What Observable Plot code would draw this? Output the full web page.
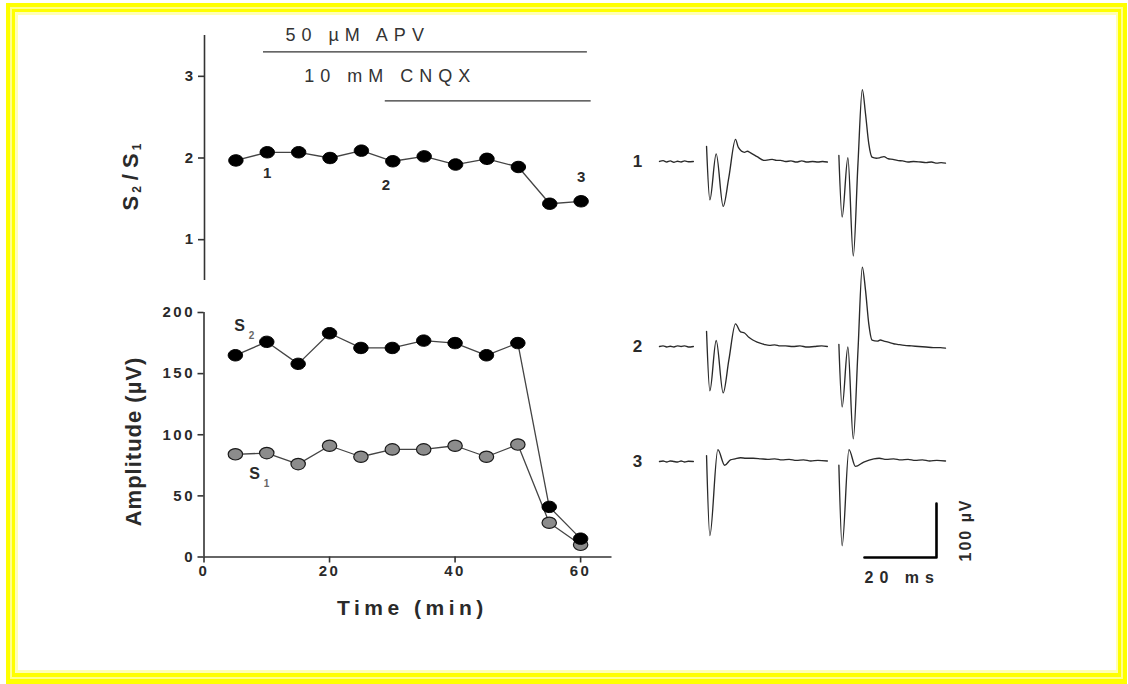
<!DOCTYPE html>
<html><head><meta charset="utf-8">
<script src="https://cdn.jsdelivr.net/npm/d3@7"></script>
<script src="https://cdn.jsdelivr.net/npm/@observablehq/plot@0.6"></script>
<style>
html,body{margin:0;padding:0;background:#fff;}
#page{position:relative;width:1128px;height:684px;overflow:hidden;font-family:"Liberation Sans",Arial,sans-serif;background:#fff;}
.frame{position:absolute;box-sizing:border-box;}
.panel{position:absolute;}
.panel svg{overflow:visible;}
g[aria-label="y-axis tick label"] text, g[aria-label="x-axis tick label"] text{letter-spacing:2.5px;font-size:15px;font-weight:bold;}
g[aria-description="drug label"] text{letter-spacing:6px;}
g[aria-description="time title"] text{letter-spacing:4.5px;}
g[aria-description="amp title"] text{letter-spacing:1px;}
g[aria-description="ms label"] text{letter-spacing:6px;}
g[aria-description="uv label"] text{letter-spacing:2px;}
</style></head><body>
<div id="page">
 <div class="frame" style="left:6px;top:3px;width:1121px;height:681px;background:#ffff00"></div>
 <div class="frame" style="left:10px;top:7px;width:1113px;height:672px;background:#ffff8c"></div>
 <div class="frame" style="left:12px;top:9px;width:1109px;height:668px;background:#ffff00"></div>
 <div class="frame" style="left:15px;top:12px;width:1103px;height:661px;background:#ffffb4"></div>
 <div class="frame" style="left:18px;top:15px;width:1098px;height:655px;background:#ffffff"></div>
 <div id="top" class="panel" style="left:0;top:0"></div>
 <div id="bottom" class="panel" style="left:0;top:290px"></div>
 <div id="traces" class="panel" style="left:620px;top:60px"></div>
</div>
<script>
// ---------- data ----------
const times = [5, 10, 15, 20, 25, 30, 35, 40, 45, 50, 55, 60];
const ratio = [1.97, 2.07, 2.07, 2.00, 2.09, 1.96, 2.02, 1.92, 1.99, 1.89, 1.44, 1.47];
const s2 = [165, 176, 158, 183, 171, 171, 177, 175, 165, 175, 41, 15];
const s1 = [84, 85, 76, 91, 82, 88, 88, 91, 82, 92, 28, 10];
const ratioTicks = [1, 2, 3];
const ampTicks = [0, 50, 100, 150, 200];
const timeTicks = [0, 20, 40, 60];
const drugNames = ["50 \u00b5M APV", "10 mM CNQX"];
const drugStart = [9.4, 28.8];
const drugEnd = [61.0, 61.6];
const sampleLabels = ["1", "2", "3"];
const sampleTimes = [10, 30, 60];
const traceLabels = ["1", "2", "3"];
// traces: [ms, µV]
const trace1Pre = [[0,0],[1,1.5],[2,-1],[3,1],[4,-1.5],[5,0.5],[6,-1],[7,1],[8,-0.5],[9.4,0]];
const trace1A = [[13.06,28],[13.98,-71],[15.74,14],[17.68,-83],[19.26,-29],[21.1,41],[21.9,26],[23.6,17],[24.4,19],[25.3,16],[27.1,9],[29.0,2],[30.2,3],[31.3,4],[32.5,2],[33.6,2],[35,0],[36.5,1],[38,-1],[39.5,1],[41,-1],[42.5,0],[44,-1],[45.3,0],[46.6,-1]];
const trace1B = [[49.8,11],[50.7,-103],[52.3,7],[53.8,-175],[55.1,-4],[56.3,133],[57.2,88],[58.1,33],[59.0,8],[60.2,6],[61.2,7],[62.3,9],[63.5,5],[64.8,4],[66.0,2],[67.5,1],[69,-1],[70.5,0],[72.5,-1],[74,-2],[75.5,-1],[77,-3],[78.2,-2],[79.4,-3]];
const trace2Pre = [[0,0],[1,1],[2,-1],[3,0.5],[4,-1],[5,1],[6,0],[7,1],[8,-1],[9.4,0]];
const trace2A = [[13.06,28],[13.98,-82],[15.74,11],[17.68,-86],[19.26,-25],[21.1,42],[22.5,27],[23.6,25],[24.8,17],[25.9,12],[27.1,8],[29.0,4],[30.5,2],[32,3],[33.5,1],[35,1],[37,0],[39,1],[41,-1],[43,0],[45,1],[46.6,0]];
const trace2B = [[49.8,4],[50.7,-112],[52.3,-1],[53.8,-171],[55.1,-8],[56.3,147],[57.2,104],[58.1,42],[59.0,12],[60.5,10],[61.3,12],[62.3,10],[63.5,8],[65,5],[66,4],[68,2],[70,1],[72,0],[74,-1],[76,-2],[78,-2],[79.4,-3]];
const trace3Pre = [[0,0],[1,1],[2,-1],[3,1],[4,0],[5,-1],[6,1],[7,-1],[8,0.5],[9.4,0]];
const trace3A = [[13.06,11],[13.98,-137],[16.2,22],[18.1,-7],[19.7,3],[21,5],[22.5,7],[24,6],[26,6],[28.1,5],[30,4],[32,5],[34,3],[36,4],[38,2],[40,3],[42,1],[44,2],[46.6,1]];
const trace3B = [[49.8,-7],[50.7,-156],[52.6,22],[54.4,-9],[56.7,-1],[59.5,5],[61,6],[63,4],[65,5],[67,3],[69,4],[71,2],[73,3],[75,1],[77,2],[79.4,1]];
const scaleBarMs = 20;
const scaleBarUV = 100;

// ---------- layout / style ----------
const FONT = '"Liberation Sans", Arial, sans-serif';
const INK = "#2a2a2a";
const ellipse = { draw(ctx) {
  const rx = 7.2, ry = 5.7, k = 0.5523;
  ctx.moveTo(rx, 0);
  ctx.bezierCurveTo(rx, ry*k, rx*k, ry, 0, ry);
  ctx.bezierCurveTo(-rx*k, ry, -rx, ry*k, -rx, 0);
  ctx.bezierCurveTo(-rx, -ry*k, -rx*k, -ry, 0, -ry);
  ctx.bezierCurveTo(rx*k, -ry, rx, -ry*k, rx, 0);
  ctx.closePath();
}};
const drugBarY = [3.30, 2.70];
const drugTextPos = [[12.9, 3.5], [15.9, 3.0]];
const sampleLabelOffset = [[0, 21], [-7, 24], [0, -24]];
const traceOffsets = [555.6, 213, 0];

// ---------- top panel: S2/S1 ----------
const ratioRows = times.map((t, i) => ({t, v: ratio[i]}));
const drugRows = drugNames.map((name, i) => ({name, start: drugStart[i], end: drugEnd[i], i}));
const sampleRows = sampleLabels.map((label, i) => ({label, t: sampleTimes[i], v: ratio[times.indexOf(sampleTimes[i])], i}));

const topPlot = Plot.plot({
  width: 620, height: 290,
  marginLeft: 204, marginRight: 8, marginTop: 35, marginBottom: 10,
  x: {domain: [0, 65], axis: null},
  y: {domain: [0.5, 3.5]},
  style: {fontFamily: FONT, color: INK, background: "transparent"},
  marks: [
    Plot.ruleX([0], {stroke: "#333", strokeWidth: 1.6}),
    Plot.axisY(ratioTicks, {tickSize: 6, tickPadding: 3, tickFormat: d3.format("d"), fontSize: 15, fontWeight: "bold", label: null, strokeWidth: 1.6, stroke: "#333", fill: INK}),
    Plot.ruleY(drugRows, {y: d => drugBarY[d.i], x1: "start", x2: "end", stroke: "#333", strokeWidth: 1.4}),
    Plot.text(drugRows, {x: d => drugTextPos[d.i][0], y: d => drugTextPos[d.i][1], text: "name", textAnchor: "start", fontSize: 18, fill: "#333", ariaDescription: "drug label"}),
    Plot.line(ratioRows, {x: "t", y: "v", stroke: "#444", strokeWidth: 1.3}),
    Plot.dot(ratioRows, {x: "t", y: "v", symbol: ellipse, fill: "#000", stroke: "#000", strokeWidth: 1}),
    ...sampleRows.map(r => Plot.text([r], {x: "t", y: "v", text: "label", dx: sampleLabelOffset[r.i][0], dy: sampleLabelOffset[r.i][1], fontSize: 15, fontWeight: "bold", fill: INK}))
  ]
});
document.getElementById("top").appendChild(topPlot);
{
  const sx = topPlot.scale("x"), sy = topPlot.scale("y");
  const px = sx.apply(-11.5), py = sy.apply(1.76);
  const t = d3.select(topPlot).append("text")
    .attr("transform", `translate(${px},${py}) rotate(-90)`)
    .attr("text-anchor", "middle").attr("dominant-baseline", "middle")
    .attr("font-family", FONT).attr("font-weight", "bold").attr("font-size", 22).attr("fill", INK);
  t.append("tspan").text("S");
  t.append("tspan").attr("font-size", 12).attr("dy", 6).attr("dx", 3).text("2");
  t.append("tspan").attr("dy", -6).attr("dx", 6).text("/");
  t.append("tspan").attr("dx", 6).text("S");
  t.append("tspan").attr("font-size", 12).attr("dy", 6).attr("dx", 3).text("1");
}

// ---------- bottom panel: amplitudes ----------
const s1Rows = times.map((t, i) => ({t, v: s1[i]}));
const s2Rows = times.map((t, i) => ({t, v: s2[i]}));
const bottomPlot = Plot.plot({
  width: 620, height: 340,
  marginLeft: 203.5, marginRight: 8.5, marginTop: 22, marginBottom: 73.5,
  x: {domain: [0, 65]},
  y: {domain: [0, 200]},
  style: {fontFamily: FONT, color: INK, background: "transparent"},
  marks: [
    Plot.ruleX([0], {stroke: "#333", strokeWidth: 1.6}),
    Plot.ruleY([0], {stroke: "#333", strokeWidth: 1.6}),
    Plot.axisY(ampTicks, {tickSize: 6, tickPadding: 3, fontSize: 15, fontWeight: "bold", label: null, strokeWidth: 1.6, stroke: "#333", fill: INK}),
    Plot.axisX(timeTicks, {tickSize: 6, tickPadding: 2, fontSize: 15, fontWeight: "bold", label: null, strokeWidth: 1.6, stroke: "#333", fill: INK}),
    Plot.text(["Time (min)"], {x: () => 33.2, y: () => -42, text: d => d, fontSize: 21, fontWeight: "bold", fill: INK, ariaDescription: "time title"}),
    Plot.text(["Amplitude (\u00b5V)"], {x: () => -11.2, y: () => 94.5, text: d => d, rotate: -90, fontSize: 22, fontWeight: "bold", fill: INK, ariaDescription: "amp title"}),
    Plot.line(s1Rows, {x: "t", y: "v", stroke: "#444", strokeWidth: 1.3}),
    Plot.line(s2Rows, {x: "t", y: "v", stroke: "#444", strokeWidth: 1.3}),
    Plot.dot(s1Rows, {x: "t", y: "v", symbol: ellipse, fill: "#8c8c8c", stroke: "#1a1a1a", strokeWidth: 1.2}),
    Plot.dot(s2Rows, {x: "t", y: "v", symbol: ellipse, fill: "#000", stroke: "#000", strokeWidth: 1}),
    Plot.text(["S"], {x: () => 5.65, y: () => 189.4, text: d => d, fontSize: 16, fontWeight: "bold", fill: INK}),
    Plot.text(["2"], {x: () => 5.65, y: () => 189.4, text: d => d, dx: 12, dy: 10, fontSize: 10, fontWeight: "bold", fill: "#666"}),
    Plot.text(["S"], {x: () => 8.04, y: () => 68.3, text: d => d, fontSize: 16, fontWeight: "bold", fill: INK}),
    Plot.text(["1"], {x: () => 8.04, y: () => 68.3, text: d => d, dx: 12, dy: 10, fontSize: 10, fontWeight: "bold", fill: "#666"})
  ]
});
document.getElementById("bottom").appendChild(bottomPlot);

// ---------- traces ----------
const traces = [[trace1Pre, trace1A, trace1B], [trace2Pre, trace2A, trace2B], [trace3Pre, trace3A, trace3B]];
const traceRows = traces.flatMap((segs, i) => segs.flatMap((seg, j) => seg.map(([t, v]) => ({t, v, trace: i, seg: i + "-" + j}))));
const barCorner = [76.9, -177.8];
const scaleRows = [
  {t: barCorner[0] - scaleBarMs, v: barCorner[1]},
  {t: barCorner[0], v: barCorner[1]},
  {t: barCorner[0], v: barCorner[1] + scaleBarUV}
];
const traceLabelRows = traceLabels.map((label, i) => ({label, i}));
const tracePlot = Plot.plot({
  width: 360, height: 540,
  marginLeft: 39, marginRight: 35, marginTop: 0, marginBottom: 0,
  x: {domain: [0, 79.4], axis: null},
  y: {domain: [-257.4, 742.6], axis: null},
  style: {fontFamily: FONT, color: INK, background: "transparent"},
  marks: [
    Plot.line(traceRows, {x: "t", y: d => d.v + traceOffsets[d.trace], z: "seg", stroke: "#2a2a2a", strokeWidth: 1.35, curve: "monotone-x"}),
    Plot.text(traceLabelRows, {x: () => -6.1, y: d => traceOffsets[d.i], text: "label", fontSize: 17, fontWeight: "bold", fill: INK}),
    Plot.line(scaleRows, {x: "t", y: "v", stroke: "#000", strokeWidth: 2.6}),
    Plot.text([scaleBarMs + " ms"], {x: () => 67.4, y: () => -214.8, text: d => d, fontSize: 16, fontWeight: "bold", fill: INK, ariaDescription: "ms label"}),
    Plot.text([scaleBarUV + " \u00b5V"], {x: () => 85, y: () => -126.8, text: d => d, rotate: -90, fontSize: 16, fontWeight: "bold", fill: INK, ariaDescription: "uv label"})
  ]
});
document.getElementById("traces").appendChild(tracePlot);
</script>
</body></html>
